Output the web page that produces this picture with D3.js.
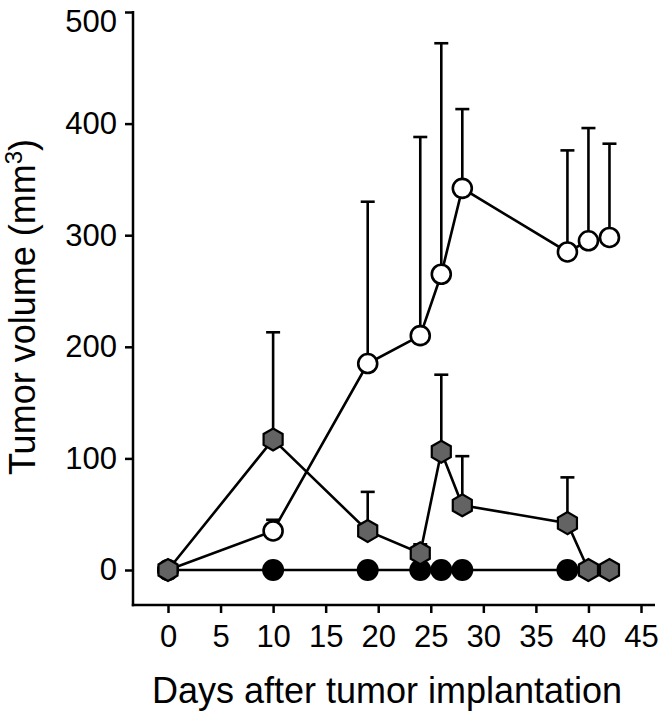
<!DOCTYPE html>
<html><head><meta charset="utf-8">
<script src="https://cdn.jsdelivr.net/npm/d3@7"></script>
<style>body{margin:0;background:#fff}svg{display:block}</style>
</head><body>
<script>
const days = [0, 10, 19, 24, 26, 28, 38, 40, 42];
const openMean = [0, 35, 185, 210, 265, 342, 285, 295, 298];
const openErr  = [0, 10, 145, 178, 207, 71, 91, 101, 84];
const grayMean = [0, 117, 35, 15, 106, 58, 42, 0, 0];
const grayErr  = [0, 96, 35, 8, 69, 44, 41, 0, 0];
const blackDays = [0, 10, 19, 24, 26, 28, 38];
const blackMean = [0, 0, 0, 0, 0, 0, 0];
const xTicks = [0, 5, 10, 15, 20, 25, 30, 35, 40, 45];
const yTicks = [0, 100, 200, 300, 400, 500];

const W = 661, H = 714;
const svg = d3.select("body").append("svg").attr("width", W).attr("height", H);
const x = d3.scaleLinear().domain([0, 45]).range([168, 641]);
const y = d3.scaleLinear().domain([0, 500]).range([570, 12]);
const axisLeftX = 133, axisBottomY = 605;
const font = "'Liberation Sans', Arial, sans-serif";

// axes
const ya = svg.append("g").attr("transform", `translate(${axisLeftX},0)`)
  .call(d3.axisLeft(y).tickValues(yTicks).tickSize(8).tickPadding(8));
const xa = svg.append("g").attr("transform", `translate(0,${axisBottomY})`)
  .call(d3.axisBottom(x).tickValues(xTicks).tickSize(8).tickPadding(12));
[ya, xa].forEach(g => {
  g.select(".domain").remove();
  g.selectAll("line").attr("stroke", "#000").attr("stroke-width", 2.5);
  g.selectAll("text").attr("font-family", font).attr("font-size", 31).attr("fill", "#000");
});
// keep the top label inside the picture
ya.selectAll(".tick").filter(d => d === 500).select("text").attr("dy", "0.62em");

svg.append("line").attr("x1", axisLeftX).attr("x2", axisLeftX).attr("y1", y(500) - 1).attr("y2", axisBottomY + 1.2)
  .attr("stroke", "#000").attr("stroke-width", 2.5);
svg.append("line").attr("x1", axisLeftX - 1.2).attr("x2", 655).attr("y1", axisBottomY).attr("y2", axisBottomY)
  .attr("stroke", "#000").attr("stroke-width", 2.5);

// titles
svg.append("text").attr("x", 387).attr("y", 703).attr("text-anchor", "middle")
  .attr("font-family", font).attr("font-size", 36).text("Days after tumor implantation");
const yt = svg.append("text").attr("transform", "translate(35,307) rotate(-90)").attr("text-anchor", "middle")
  .attr("font-family", font).attr("font-size", 36);
yt.append("tspan").text("Tumor volume (mm");
yt.append("tspan").attr("baseline-shift", "super").attr("font-size", 24).text("3");
yt.append("tspan").text(")");

const line = d3.line().x(d => x(d[0])).y(d => y(d[1]));
const lw = 2.6;

// error bars (upward only)
function errBars(means, errs) {
  const g = svg.append("g").attr("stroke", "#000").attr("stroke-width", lw);
  days.forEach((d, i) => {
    if (errs[i] <= 0) return;
    const top = y(means[i] + errs[i]);
    g.append("line").attr("x1", x(d)).attr("x2", x(d)).attr("y1", y(means[i])).attr("y2", top);
    g.append("line").attr("x1", x(d) - 7).attr("x2", x(d) + 7).attr("y1", top).attr("y2", top);
  });
}
errBars(openMean, openErr);
errBars(grayMean, grayErr);

// black series
svg.append("path").datum(blackDays.map((d, i) => [d, blackMean[i]])).attr("d", line)
  .attr("fill", "none").attr("stroke", "#000").attr("stroke-width", lw);
svg.append("g").selectAll("circle").data(blackDays).join("circle")
  .attr("cx", d => x(d)).attr("cy", (d, i) => y(blackMean[i])).attr("r", 11).attr("fill", "#000");

// open series
svg.append("path").datum(days.map((d, i) => [d, openMean[i]])).attr("d", line)
  .attr("fill", "none").attr("stroke", "#000").attr("stroke-width", lw);
svg.append("g").selectAll("circle").data(days).join("circle")
  .attr("cx", d => x(d)).attr("cy", (d, i) => y(openMean[i])).attr("r", 9.5)
  .attr("fill", "#fff").attr("stroke", "#000").attr("stroke-width", lw);

// gray hexagon series
svg.append("path").datum(days.map((d, i) => [d, grayMean[i]])).attr("d", line)
  .attr("fill", "none").attr("stroke", "#000").attr("stroke-width", lw);
const hex = r => d3.range(6).map(k => {
  const a = Math.PI / 2 + k * Math.PI / 3;
  return [r * Math.cos(a), r * Math.sin(a)];
});
const hexPath = "M" + hex(11).map(p => p.join(",")).join("L") + "Z";
svg.append("g").selectAll("path").data(days).join("path")
  .attr("d", hexPath)
  .attr("transform", (d, i) => `translate(${x(d)},${y(grayMean[i])})`)
  .attr("fill", "#636363").attr("stroke", "#000").attr("stroke-width", 2.2);
</script>
</body></html>
